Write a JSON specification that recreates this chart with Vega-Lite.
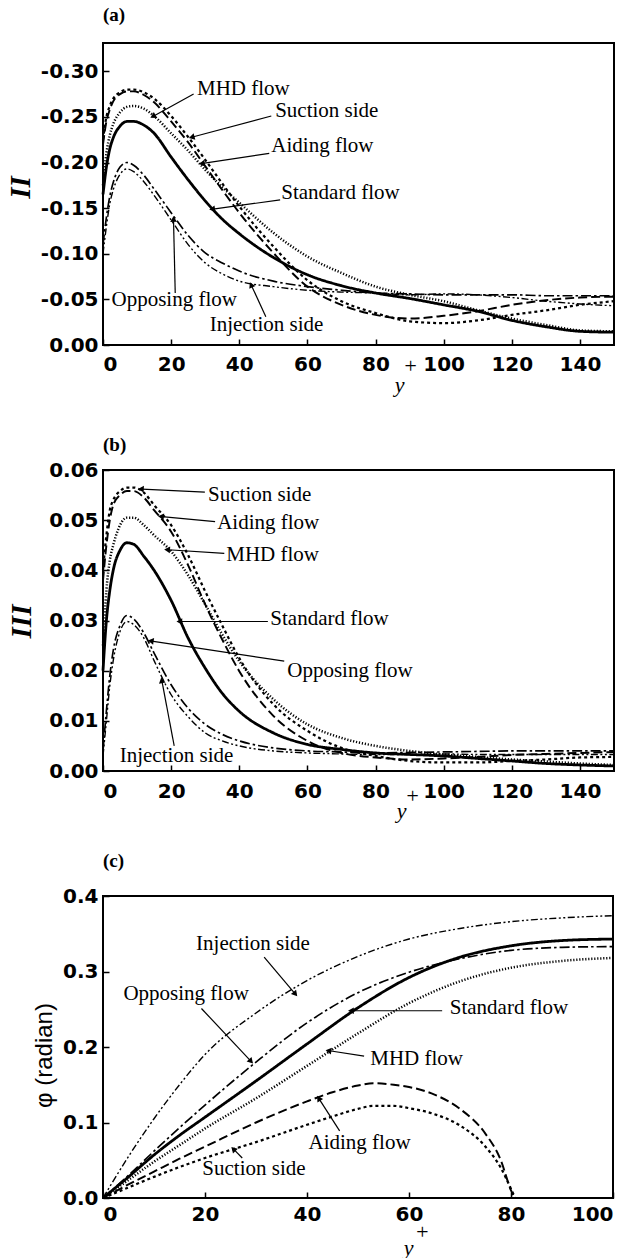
{
"$schema":"https://vega.github.io/schema/vega-lite/v6.json",
"autosize":{"type":"none"},
"padding":{"left":103,"top":43,"right":535,"bottom":1215},
"background":"white",
"config":{
 "view":{"stroke":"black","strokeWidth":2},
 "axis":{"domain":false,"grid":false,"tickColor":"black","tickSize":-6,"tickWidth":1.5,"labelFont":"DejaVu Sans","labelFontWeight":"bold","labelFontSize":20,"labelColor":"black","titleColor":"black"},
 "axisX":{"labelPadding":16},
 "axisY":{"labelPadding":11},
 "title":{"font":"Liberation Serif","fontWeight":"bold","fontSize":19,"color":"black","anchor":"start","frame":"group","baseline":"alphabetic"},
 "text":{"font":"Liberation Serif","fontSize":21,"color":"black"}
},
"datasets":{
"a":[
{"c":"Standard flow","x":0,"v":-0.165},{"c":"Standard flow","x":1,"v":-0.195},{"c":"Standard flow","x":2,"v":-0.215},{"c":"Standard flow","x":3,"v":-0.227},{"c":"Standard flow","x":5,"v":-0.24},{"c":"Standard flow","x":7,"v":-0.245},{"c":"Standard flow","x":9,"v":-0.245},{"c":"Standard flow","x":12,"v":-0.241},{"c":"Standard flow","x":15,"v":-0.232},{"c":"Standard flow","x":20,"v":-0.206},{"c":"Standard flow","x":25,"v":-0.181},{"c":"Standard flow","x":30,"v":-0.158},{"c":"Standard flow","x":35,"v":-0.138},{"c":"Standard flow","x":40,"v":-0.122},{"c":"Standard flow","x":50,"v":-0.096},{"c":"Standard flow","x":60,"v":-0.077},{"c":"Standard flow","x":70,"v":-0.065},{"c":"Standard flow","x":80,"v":-0.057},{"c":"Standard flow","x":90,"v":-0.051},{"c":"Standard flow","x":100,"v":-0.044},{"c":"Standard flow","x":110,"v":-0.037},{"c":"Standard flow","x":120,"v":-0.027},{"c":"Standard flow","x":130,"v":-0.02},{"c":"Standard flow","x":140,"v":-0.015},{"c":"Standard flow","x":150,"v":-0.014},
{"c":"MHD flow","x":0,"v":-0.175},{"c":"MHD flow","x":1,"v":-0.21},{"c":"MHD flow","x":2,"v":-0.23},{"c":"MHD flow","x":3,"v":-0.242},{"c":"MHD flow","x":5,"v":-0.255},{"c":"MHD flow","x":7,"v":-0.261},{"c":"MHD flow","x":9,"v":-0.262},{"c":"MHD flow","x":12,"v":-0.259},{"c":"MHD flow","x":15,"v":-0.251},{"c":"MHD flow","x":20,"v":-0.232},{"c":"MHD flow","x":25,"v":-0.213},{"c":"MHD flow","x":30,"v":-0.192},{"c":"MHD flow","x":35,"v":-0.173},{"c":"MHD flow","x":40,"v":-0.156},{"c":"MHD flow","x":50,"v":-0.123},{"c":"MHD flow","x":60,"v":-0.097},{"c":"MHD flow","x":70,"v":-0.079},{"c":"MHD flow","x":80,"v":-0.064},{"c":"MHD flow","x":90,"v":-0.055},{"c":"MHD flow","x":100,"v":-0.048},{"c":"MHD flow","x":110,"v":-0.038},{"c":"MHD flow","x":120,"v":-0.029},{"c":"MHD flow","x":130,"v":-0.022},{"c":"MHD flow","x":140,"v":-0.016},{"c":"MHD flow","x":150,"v":-0.015},
{"c":"Suction side","x":0,"v":-0.225},{"c":"Suction side","x":1,"v":-0.25},{"c":"Suction side","x":2,"v":-0.262},{"c":"Suction side","x":3,"v":-0.27},{"c":"Suction side","x":5,"v":-0.277},{"c":"Suction side","x":7,"v":-0.28},{"c":"Suction side","x":9,"v":-0.28},{"c":"Suction side","x":12,"v":-0.277},{"c":"Suction side","x":15,"v":-0.27},{"c":"Suction side","x":20,"v":-0.251},{"c":"Suction side","x":25,"v":-0.228},{"c":"Suction side","x":30,"v":-0.203},{"c":"Suction side","x":35,"v":-0.177},{"c":"Suction side","x":40,"v":-0.152},{"c":"Suction side","x":50,"v":-0.108},{"c":"Suction side","x":60,"v":-0.071},{"c":"Suction side","x":70,"v":-0.048},{"c":"Suction side","x":80,"v":-0.035},{"c":"Suction side","x":90,"v":-0.026},{"c":"Suction side","x":100,"v":-0.024},{"c":"Suction side","x":110,"v":-0.027},{"c":"Suction side","x":120,"v":-0.033},{"c":"Suction side","x":130,"v":-0.038},{"c":"Suction side","x":140,"v":-0.044},{"c":"Suction side","x":150,"v":-0.048},
{"c":"Aiding flow","x":0,"v":-0.22},{"c":"Aiding flow","x":1,"v":-0.245},{"c":"Aiding flow","x":2,"v":-0.258},{"c":"Aiding flow","x":3,"v":-0.267},{"c":"Aiding flow","x":5,"v":-0.275},{"c":"Aiding flow","x":7,"v":-0.278},{"c":"Aiding flow","x":9,"v":-0.278},{"c":"Aiding flow","x":12,"v":-0.274},{"c":"Aiding flow","x":15,"v":-0.266},{"c":"Aiding flow","x":20,"v":-0.245},{"c":"Aiding flow","x":25,"v":-0.222},{"c":"Aiding flow","x":30,"v":-0.196},{"c":"Aiding flow","x":35,"v":-0.17},{"c":"Aiding flow","x":40,"v":-0.145},{"c":"Aiding flow","x":50,"v":-0.101},{"c":"Aiding flow","x":60,"v":-0.064},{"c":"Aiding flow","x":70,"v":-0.044},{"c":"Aiding flow","x":80,"v":-0.033},{"c":"Aiding flow","x":90,"v":-0.029},{"c":"Aiding flow","x":100,"v":-0.032},{"c":"Aiding flow","x":110,"v":-0.037},{"c":"Aiding flow","x":120,"v":-0.044},{"c":"Aiding flow","x":130,"v":-0.049},{"c":"Aiding flow","x":140,"v":-0.052},{"c":"Aiding flow","x":150,"v":-0.053},
{"c":"Opposing flow","x":0,"v":-0.11},{"c":"Opposing flow","x":1,"v":-0.14},{"c":"Opposing flow","x":2,"v":-0.163},{"c":"Opposing flow","x":3,"v":-0.178},{"c":"Opposing flow","x":5,"v":-0.195},{"c":"Opposing flow","x":7,"v":-0.2},{"c":"Opposing flow","x":9,"v":-0.197},{"c":"Opposing flow","x":12,"v":-0.186},{"c":"Opposing flow","x":15,"v":-0.171},{"c":"Opposing flow","x":20,"v":-0.145},{"c":"Opposing flow","x":25,"v":-0.12},{"c":"Opposing flow","x":30,"v":-0.101},{"c":"Opposing flow","x":35,"v":-0.09},{"c":"Opposing flow","x":40,"v":-0.081},{"c":"Opposing flow","x":50,"v":-0.07},{"c":"Opposing flow","x":60,"v":-0.064},{"c":"Opposing flow","x":70,"v":-0.06},{"c":"Opposing flow","x":80,"v":-0.057},{"c":"Opposing flow","x":90,"v":-0.056},{"c":"Opposing flow","x":100,"v":-0.055},{"c":"Opposing flow","x":110,"v":-0.055},{"c":"Opposing flow","x":120,"v":-0.055},{"c":"Opposing flow","x":130,"v":-0.054},{"c":"Opposing flow","x":140,"v":-0.054},{"c":"Opposing flow","x":150,"v":-0.054},
{"c":"Injection side","x":0,"v":-0.1},{"c":"Injection side","x":1,"v":-0.13},{"c":"Injection side","x":2,"v":-0.155},{"c":"Injection side","x":3,"v":-0.17},{"c":"Injection side","x":5,"v":-0.187},{"c":"Injection side","x":7,"v":-0.193},{"c":"Injection side","x":9,"v":-0.19},{"c":"Injection side","x":12,"v":-0.179},{"c":"Injection side","x":15,"v":-0.164},{"c":"Injection side","x":20,"v":-0.137},{"c":"Injection side","x":25,"v":-0.11},{"c":"Injection side","x":30,"v":-0.09},{"c":"Injection side","x":35,"v":-0.078},{"c":"Injection side","x":40,"v":-0.07},{"c":"Injection side","x":50,"v":-0.064},{"c":"Injection side","x":60,"v":-0.06},{"c":"Injection side","x":70,"v":-0.058},{"c":"Injection side","x":80,"v":-0.057},{"c":"Injection side","x":90,"v":-0.055},{"c":"Injection side","x":100,"v":-0.056},{"c":"Injection side","x":110,"v":-0.055},{"c":"Injection side","x":120,"v":-0.052},{"c":"Injection side","x":130,"v":-0.048},{"c":"Injection side","x":140,"v":-0.045},{"c":"Injection side","x":150,"v":-0.043}
],
"b":[
{"c":"Standard flow","x":0,"v":0.02},{"c":"Standard flow","x":1,"v":0.03},{"c":"Standard flow","x":2,"v":0.036},{"c":"Standard flow","x":3,"v":0.04},{"c":"Standard flow","x":5,"v":0.044},{"c":"Standard flow","x":7,"v":0.0455},{"c":"Standard flow","x":9,"v":0.0452},{"c":"Standard flow","x":12,"v":0.0428},{"c":"Standard flow","x":15,"v":0.04},{"c":"Standard flow","x":20,"v":0.034},{"c":"Standard flow","x":25,"v":0.0265},{"c":"Standard flow","x":30,"v":0.0205},{"c":"Standard flow","x":35,"v":0.0155},{"c":"Standard flow","x":40,"v":0.0119},{"c":"Standard flow","x":50,"v":0.0076},{"c":"Standard flow","x":60,"v":0.0053},{"c":"Standard flow","x":70,"v":0.0043},{"c":"Standard flow","x":80,"v":0.0036},{"c":"Standard flow","x":90,"v":0.0033},{"c":"Standard flow","x":100,"v":0.003},{"c":"Standard flow","x":110,"v":0.0025},{"c":"Standard flow","x":120,"v":0.002},{"c":"Standard flow","x":130,"v":0.0015},{"c":"Standard flow","x":140,"v":0.0012},{"c":"Standard flow","x":150,"v":0.001},
{"c":"MHD flow","x":0,"v":0.025},{"c":"MHD flow","x":1,"v":0.036},{"c":"MHD flow","x":2,"v":0.042},{"c":"MHD flow","x":3,"v":0.045},{"c":"MHD flow","x":5,"v":0.049},{"c":"MHD flow","x":7,"v":0.0505},{"c":"MHD flow","x":9,"v":0.0505},{"c":"MHD flow","x":12,"v":0.049},{"c":"MHD flow","x":15,"v":0.047},{"c":"MHD flow","x":20,"v":0.0438},{"c":"MHD flow","x":25,"v":0.039},{"c":"MHD flow","x":30,"v":0.0332},{"c":"MHD flow","x":35,"v":0.0272},{"c":"MHD flow","x":40,"v":0.0219},{"c":"MHD flow","x":50,"v":0.0143},{"c":"MHD flow","x":60,"v":0.0093},{"c":"MHD flow","x":70,"v":0.0066},{"c":"MHD flow","x":80,"v":0.005},{"c":"MHD flow","x":90,"v":0.004},{"c":"MHD flow","x":100,"v":0.0033},{"c":"MHD flow","x":110,"v":0.0028},{"c":"MHD flow","x":120,"v":0.0023},{"c":"MHD flow","x":130,"v":0.0019},{"c":"MHD flow","x":140,"v":0.0015},{"c":"MHD flow","x":150,"v":0.0012},
{"c":"Suction side","x":0,"v":0.04},{"c":"Suction side","x":1,"v":0.047},{"c":"Suction side","x":2,"v":0.052},{"c":"Suction side","x":3,"v":0.054},{"c":"Suction side","x":5,"v":0.0558},{"c":"Suction side","x":7,"v":0.0565},{"c":"Suction side","x":9,"v":0.0565},{"c":"Suction side","x":12,"v":0.0555},{"c":"Suction side","x":15,"v":0.053},{"c":"Suction side","x":20,"v":0.049},{"c":"Suction side","x":25,"v":0.043},{"c":"Suction side","x":30,"v":0.0358},{"c":"Suction side","x":35,"v":0.029},{"c":"Suction side","x":40,"v":0.0225},{"c":"Suction side","x":50,"v":0.0133},{"c":"Suction side","x":60,"v":0.008},{"c":"Suction side","x":70,"v":0.0046},{"c":"Suction side","x":80,"v":0.003},{"c":"Suction side","x":90,"v":0.002},{"c":"Suction side","x":100,"v":0.0017},{"c":"Suction side","x":110,"v":0.0017},{"c":"Suction side","x":120,"v":0.002},{"c":"Suction side","x":130,"v":0.0023},{"c":"Suction side","x":140,"v":0.0027},{"c":"Suction side","x":150,"v":0.0028},
{"c":"Aiding flow","x":0,"v":0.038},{"c":"Aiding flow","x":1,"v":0.045},{"c":"Aiding flow","x":2,"v":0.05},{"c":"Aiding flow","x":3,"v":0.053},{"c":"Aiding flow","x":5,"v":0.055},{"c":"Aiding flow","x":7,"v":0.0558},{"c":"Aiding flow","x":9,"v":0.0558},{"c":"Aiding flow","x":12,"v":0.0545},{"c":"Aiding flow","x":15,"v":0.052},{"c":"Aiding flow","x":20,"v":0.0477},{"c":"Aiding flow","x":25,"v":0.041},{"c":"Aiding flow","x":30,"v":0.0332},{"c":"Aiding flow","x":35,"v":0.0262},{"c":"Aiding flow","x":40,"v":0.0199},{"c":"Aiding flow","x":50,"v":0.011},{"c":"Aiding flow","x":60,"v":0.006},{"c":"Aiding flow","x":70,"v":0.0036},{"c":"Aiding flow","x":80,"v":0.0027},{"c":"Aiding flow","x":90,"v":0.0023},{"c":"Aiding flow","x":100,"v":0.0025},{"c":"Aiding flow","x":110,"v":0.0028},{"c":"Aiding flow","x":120,"v":0.0032},{"c":"Aiding flow","x":130,"v":0.0034},{"c":"Aiding flow","x":140,"v":0.0036},{"c":"Aiding flow","x":150,"v":0.0038},
{"c":"Opposing flow","x":0,"v":0.004},{"c":"Opposing flow","x":1,"v":0.012},{"c":"Opposing flow","x":2,"v":0.019},{"c":"Opposing flow","x":3,"v":0.024},{"c":"Opposing flow","x":5,"v":0.029},{"c":"Opposing flow","x":7,"v":0.031},{"c":"Opposing flow","x":9,"v":0.0303},{"c":"Opposing flow","x":12,"v":0.0275},{"c":"Opposing flow","x":15,"v":0.0235},{"c":"Opposing flow","x":20,"v":0.0172},{"c":"Opposing flow","x":25,"v":0.0125},{"c":"Opposing flow","x":30,"v":0.0093},{"c":"Opposing flow","x":35,"v":0.0073},{"c":"Opposing flow","x":40,"v":0.006},{"c":"Opposing flow","x":50,"v":0.0046},{"c":"Opposing flow","x":60,"v":0.004},{"c":"Opposing flow","x":70,"v":0.0038},{"c":"Opposing flow","x":80,"v":0.0036},{"c":"Opposing flow","x":90,"v":0.0037},{"c":"Opposing flow","x":100,"v":0.0038},{"c":"Opposing flow","x":110,"v":0.0039},{"c":"Opposing flow","x":120,"v":0.004},{"c":"Opposing flow","x":130,"v":0.004},{"c":"Opposing flow","x":140,"v":0.004},{"c":"Opposing flow","x":150,"v":0.004},
{"c":"Injection side","x":0,"v":0.003},{"c":"Injection side","x":1,"v":0.01},{"c":"Injection side","x":2,"v":0.017},{"c":"Injection side","x":3,"v":0.022},{"c":"Injection side","x":5,"v":0.0278},{"c":"Injection side","x":7,"v":0.0298},{"c":"Injection side","x":9,"v":0.0292},{"c":"Injection side","x":12,"v":0.0265},{"c":"Injection side","x":15,"v":0.022},{"c":"Injection side","x":20,"v":0.0152},{"c":"Injection side","x":25,"v":0.0108},{"c":"Injection side","x":30,"v":0.0076},{"c":"Injection side","x":35,"v":0.006},{"c":"Injection side","x":40,"v":0.005},{"c":"Injection side","x":50,"v":0.004},{"c":"Injection side","x":60,"v":0.0036},{"c":"Injection side","x":70,"v":0.0034},{"c":"Injection side","x":80,"v":0.0033},{"c":"Injection side","x":90,"v":0.0033},{"c":"Injection side","x":100,"v":0.0034},{"c":"Injection side","x":110,"v":0.0033},{"c":"Injection side","x":120,"v":0.0033},{"c":"Injection side","x":130,"v":0.0033},{"c":"Injection side","x":140,"v":0.0033},{"c":"Injection side","x":150,"v":0.0033}
],
"c":[
{"c":"Injection side","x":0,"v":0},{"c":"Injection side","x":5,"v":0.055},{"c":"Injection side","x":10,"v":0.105},{"c":"Injection side","x":15,"v":0.15},{"c":"Injection side","x":20,"v":0.19},{"c":"Injection side","x":30,"v":0.245},{"c":"Injection side","x":40,"v":0.288},{"c":"Injection side","x":50,"v":0.32},{"c":"Injection side","x":60,"v":0.343},{"c":"Injection side","x":70,"v":0.357},{"c":"Injection side","x":80,"v":0.366},{"c":"Injection side","x":90,"v":0.371},{"c":"Injection side","x":100,"v":0.374},
{"c":"Opposing flow","x":0,"v":0},{"c":"Opposing flow","x":5,"v":0.03},{"c":"Opposing flow","x":10,"v":0.062},{"c":"Opposing flow","x":15,"v":0.093},{"c":"Opposing flow","x":20,"v":0.123},{"c":"Opposing flow","x":30,"v":0.18},{"c":"Opposing flow","x":40,"v":0.232},{"c":"Opposing flow","x":50,"v":0.272},{"c":"Opposing flow","x":60,"v":0.299},{"c":"Opposing flow","x":70,"v":0.317},{"c":"Opposing flow","x":80,"v":0.328},{"c":"Opposing flow","x":90,"v":0.332},{"c":"Opposing flow","x":100,"v":0.333},
{"c":"Standard flow","x":0,"v":0},{"c":"Standard flow","x":5,"v":0.028},{"c":"Standard flow","x":10,"v":0.057},{"c":"Standard flow","x":15,"v":0.083},{"c":"Standard flow","x":20,"v":0.107},{"c":"Standard flow","x":30,"v":0.155},{"c":"Standard flow","x":40,"v":0.204},{"c":"Standard flow","x":50,"v":0.252},{"c":"Standard flow","x":60,"v":0.292},{"c":"Standard flow","x":70,"v":0.319},{"c":"Standard flow","x":80,"v":0.334},{"c":"Standard flow","x":90,"v":0.341},{"c":"Standard flow","x":100,"v":0.343},
{"c":"MHD flow","x":0,"v":0},{"c":"MHD flow","x":5,"v":0.024},{"c":"MHD flow","x":10,"v":0.048},{"c":"MHD flow","x":15,"v":0.07},{"c":"MHD flow","x":20,"v":0.092},{"c":"MHD flow","x":30,"v":0.132},{"c":"MHD flow","x":40,"v":0.175},{"c":"MHD flow","x":50,"v":0.218},{"c":"MHD flow","x":60,"v":0.258},{"c":"MHD flow","x":70,"v":0.287},{"c":"MHD flow","x":80,"v":0.305},{"c":"MHD flow","x":90,"v":0.314},{"c":"MHD flow","x":100,"v":0.318},
{"c":"Aiding flow","x":0,"v":0},{"c":"Aiding flow","x":5,"v":0.018},{"c":"Aiding flow","x":10,"v":0.035},{"c":"Aiding flow","x":15,"v":0.052},{"c":"Aiding flow","x":20,"v":0.068},{"c":"Aiding flow","x":30,"v":0.1},{"c":"Aiding flow","x":40,"v":0.128},{"c":"Aiding flow","x":45,"v":0.14},{"c":"Aiding flow","x":50,"v":0.149},{"c":"Aiding flow","x":53,"v":0.152},{"c":"Aiding flow","x":57,"v":0.15},{"c":"Aiding flow","x":60,"v":0.147},{"c":"Aiding flow","x":65,"v":0.137},{"c":"Aiding flow","x":70,"v":0.118},{"c":"Aiding flow","x":75,"v":0.085},{"c":"Aiding flow","x":78,"v":0.05},{"c":"Aiding flow","x":80,"v":0.01},{"c":"Aiding flow","x":80.7,"v":0},
{"c":"Suction side","x":0,"v":0},{"c":"Suction side","x":5,"v":0.014},{"c":"Suction side","x":10,"v":0.028},{"c":"Suction side","x":15,"v":0.041},{"c":"Suction side","x":20,"v":0.053},{"c":"Suction side","x":30,"v":0.074},{"c":"Suction side","x":40,"v":0.097},{"c":"Suction side","x":45,"v":0.108},{"c":"Suction side","x":50,"v":0.118},{"c":"Suction side","x":53,"v":0.122},{"c":"Suction side","x":57,"v":0.122},{"c":"Suction side","x":60,"v":0.119},{"c":"Suction side","x":65,"v":0.111},{"c":"Suction side","x":70,"v":0.096},{"c":"Suction side","x":75,"v":0.068},{"c":"Suction side","x":78,"v":0.04},{"c":"Suction side","x":80,"v":0.012},{"c":"Suction side","x":80.8,"v":0}
],
"annA":[
{"label":"MHD flow","tx":41.2,"ty":-0.281,"x1":26.6,"y1":-0.275,"x2":14.9,"y2":-0.251},
{"label":"Suction side","tx":65.7,"ty":-0.256,"x1":49.4,"y1":-0.251,"x2":26.3,"y2":-0.228},
{"label":"Aiding flow","tx":64.4,"ty":-0.218,"x1":48.8,"y1":-0.21,"x2":29.3,"y2":-0.199},
{"label":"Standard flow","tx":69.7,"ty":-0.167,"x1":52,"y1":-0.159,"x2":32.3,"y2":-0.149},
{"label":"Opposing flow","tx":20.9,"ty":-0.049,"x1":21.2,"y1":-0.057,"x2":20.7,"y2":-0.137},
{"label":"Injection side","tx":48,"ty":-0.022,"x1":47.8,"y1":-0.031,"x2":43.6,"y2":-0.065}
],
"annB":[
{"label":"Suction side","tx":46,"ty":0.055,"x1":29.9,"y1":0.0556,"x2":11.4,"y2":0.0562},
{"label":"Aiding flow","tx":48.5,"ty":0.0494,"x1":32.9,"y1":0.0497,"x2":17.3,"y2":0.0507},
{"label":"MHD flow","tx":49.8,"ty":0.0431,"x1":35.6,"y1":0.0434,"x2":19.1,"y2":0.0441},
{"label":"Standard flow","tx":66.5,"ty":0.0302,"x1":48.4,"y1":0.0298,"x2":22.7,"y2":0.0298},
{"label":"Opposing flow","tx":72.5,"ty":0.0199,"x1":53.2,"y1":0.0219,"x2":14.3,"y2":0.0259},
{"label":"Injection side","tx":21.6,"ty":0.003,"x1":20.9,"y1":0.005,"x2":17.3,"y2":0.0179}
],
"annC":[
{"label":"Injection side","tx":29.4,"ty":0.337,"x1":31.6,"y1":0.319,"x2":37.6,"y2":0.271},
{"label":"Opposing flow","tx":16.3,"ty":0.27,"x1":19.3,"y1":0.251,"x2":28.9,"y2":0.182},
{"label":"Standard flow","tx":79.6,"ty":0.251,"x1":66.5,"y1":0.248,"x2":48.8,"y2":0.248},
{"label":"MHD flow","tx":61.5,"ty":0.184,"x1":51.2,"y1":0.188,"x2":44.4,"y2":0.195},
{"label":"Aiding flow","tx":50.3,"ty":0.073,"x1":46.4,"y1":0.089,"x2":42.4,"y2":0.131},
{"label":"Suction side","tx":29.6,"ty":0.038,"x1":27.3,"y1":0.053,"x2":25.7,"y2":0.064}
]
},
"bounds":"flush",
"spacing":125,
"vconcat":[
{"width":511,"height":302,
 "title":{"text":"(a)","offset":18},
 "encoding":{
  "x":{"type":"quantitative","scale":{"domain":[0,150],"nice":false},"axis":{"values":[0,20,40,60,80,100,120,140],"format":"d","labelPadding":15,"title":["\u200b\u00a0\u00a0\u00a0\u00a0+","y"],"titleX":296,"titleY":10,"titleBaseline":"top","titleAlign":"center","titleAngle":0,"titleFont":"Liberation Serif","titleFontStyle":"italic","titleFontWeight":"normal","titleFontSize":22,"titleLineHeight":19}},
  "y":{"type":"quantitative","scale":{"domain":[-0.331,0],"reverse":true,"nice":false,"zero":false},"axis":{"values":[-0.3,-0.25,-0.2,-0.15,-0.1,-0.05,0],"labelExpr":"datum.value < 0 ? '-' + format(-datum.value, '.2f') : format(datum.value, '.2f')","title":"II","titleX":-83,"titleY":144,"titleAngle":-90,"titleBaseline":"middle","titleAlign":"center","titleFont":"Liberation Serif","titleFontStyle":"italic","titleFontWeight":"bold","titleFontSize":29}}
 },
 "layer":[
  {"data":{"name":"a"},"mark":{"type":"line","interpolate":"monotone","color":"black"},
   "encoding":{"x":{"field":"x"},"y":{"field":"v"},
    "strokeDash":{"field":"c","type":"nominal","scale":{"domain":["Standard flow","MHD flow","Suction side","Aiding flow","Opposing flow","Injection side"],"range":[[1,0],[1.2,1.8],[3,3],[9,4],[10,3,2.5,3],[7,2.5,2,2.5,2,2.5]]},"legend":null},
    "strokeWidth":{"field":"c","type":"ordinal","scale":{"domain":["Standard flow","MHD flow","Suction side","Aiding flow","Opposing flow","Injection side"],"range":[2.8,1.4,2.5,2.5,2.5,2.1]},"legend":null}}},
  {"data":{"name":"annA"},"mark":{"type":"rule","color":"black","strokeWidth":1.2},
   "encoding":{"x":{"field":"x1"},"y":{"field":"y1"},"x2":{"field":"x2"},"y2":{"field":"y2"}}},
  {"data":{"name":"annA"},"transform":[{"calculate":"atan2((datum.x2-datum.x1)*3.407, -(datum.y2-datum.y1)*915.2)*180/PI","as":"ang"}],
   "mark":{"type":"point","shape":"triangle","filled":true,"color":"black","size":45,"opacity":1},
   "encoding":{"x":{"field":"x2"},"y":{"field":"y2"},"angle":{"field":"ang","type":"quantitative","scale":null}}},
  {"data":{"name":"annA"},"mark":{"type":"text","align":"center","baseline":"middle"},
   "encoding":{"x":{"field":"tx"},"y":{"field":"ty"},"text":{"field":"label"}}}
 ]},
{"width":511,"height":301,
 "title":{"text":"(b)","offset":5},
 "encoding":{
  "x":{"type":"quantitative","scale":{"domain":[0,150],"nice":false},"axis":{"values":[0,20,40,60,80,100,120,140],"format":"d","labelPadding":16,"title":["\u200b\u00a0\u00a0\u00a0\u00a0+","y"],"titleX":298,"titleY":14,"titleBaseline":"top","titleAlign":"center","titleAngle":0,"titleFont":"Liberation Serif","titleFontStyle":"italic","titleFontWeight":"normal","titleFontSize":22,"titleLineHeight":15}},
  "y":{"type":"quantitative","scale":{"domain":[0,0.06],"nice":false,"zero":false},"axis":{"values":[0,0.01,0.02,0.03,0.04,0.05,0.06],"format":".2f","title":"III","titleX":-82,"titleY":151,"titleAngle":-90,"titleBaseline":"middle","titleAlign":"center","titleFont":"Liberation Serif","titleFontStyle":"italic","titleFontWeight":"bold","titleFontSize":29}}
 },
 "layer":[
  {"data":{"name":"b"},"mark":{"type":"line","interpolate":"monotone","color":"black"},
   "encoding":{"x":{"field":"x"},"y":{"field":"v"},
    "strokeDash":{"field":"c","type":"nominal","scale":{"domain":["Standard flow","MHD flow","Suction side","Aiding flow","Opposing flow","Injection side"],"range":[[1,0],[1.2,1.8],[3,3],[9,4],[10,3,2.5,3],[7,2.5,2,2.5,2,2.5]]},"legend":null},
    "strokeWidth":{"field":"c","type":"ordinal","scale":{"domain":["Standard flow","MHD flow","Suction side","Aiding flow","Opposing flow","Injection side"],"range":[2.8,1.4,2.5,2.5,2.5,2.1]},"legend":null}}},
  {"data":{"name":"annB"},"mark":{"type":"rule","color":"black","strokeWidth":1.2},
   "encoding":{"x":{"field":"x1"},"y":{"field":"y1"},"x2":{"field":"x2"},"y2":{"field":"y2"}}},
  {"data":{"name":"annB"},"transform":[{"calculate":"atan2((datum.x2-datum.x1)*3.407, (datum.y2-datum.y1)*5016.7)*180/PI","as":"ang"}],
   "mark":{"type":"point","shape":"triangle","filled":true,"color":"black","size":45,"opacity":1},
   "encoding":{"x":{"field":"x2"},"y":{"field":"y2"},"angle":{"field":"ang","type":"quantitative","scale":null}}},
  {"data":{"name":"annB"},"mark":{"type":"text","align":"center","baseline":"middle"},
   "encoding":{"x":{"field":"tx"},"y":{"field":"ty"},"text":{"field":"label"}}}
 ]},
{"width":510,"height":302,
 "title":{"text":"(c)","offset":15},
 "encoding":{
  "x":{"type":"quantitative","scale":{"domain":[0,100],"nice":false},"axis":{"values":[0,20,40,60,80,100],"format":"d","labelPadding":12,"title":["\u200b\u00a0\u00a0\u00a0\u00a0\u00a0+","y"],"titleX":305,"titleY":23,"titleBaseline":"top","titleAlign":"center","titleAngle":0,"titleFont":"Liberation Serif","titleFontStyle":"italic","titleFontWeight":"normal","titleFontSize":22,"titleLineHeight":16}},
  "y":{"type":"quantitative","scale":{"domain":[0,0.4],"nice":false,"zero":false},"axis":{"values":[0,0.1,0.2,0.3,0.4],"format":".1f","title":"\u03c6 (radian)","titleX":-59,"titleY":159,"titleAngle":-90,"titleBaseline":"middle","titleAlign":"center","titleFont":"Liberation Sans","titleFontWeight":"normal","titleFontSize":24}}
 },
 "layer":[
  {"data":{"name":"c"},"mark":{"type":"line","interpolate":"monotone","color":"black"},
   "encoding":{"x":{"field":"x"},"y":{"field":"v"},
    "strokeDash":{"field":"c","type":"nominal","scale":{"domain":["Standard flow","MHD flow","Suction side","Aiding flow","Opposing flow","Injection side"],"range":[[1,0],[1.2,1.8],[3,3],[9,4],[10,3,2.5,3],[7,2.5,2,2.5,2,2.5]]},"legend":null},
    "strokeWidth":{"field":"c","type":"ordinal","scale":{"domain":["Standard flow","MHD flow","Suction side","Aiding flow","Opposing flow","Injection side"],"range":[2.8,1.4,2.5,2.5,2.5,2.1]},"legend":null}}},
  {"data":{"name":"annC"},"mark":{"type":"rule","color":"black","strokeWidth":1.2},
   "encoding":{"x":{"field":"x1"},"y":{"field":"y1"},"x2":{"field":"x2"},"y2":{"field":"y2"}}},
  {"data":{"name":"annC"},"transform":[{"calculate":"atan2((datum.x2-datum.x1)*5.1, (datum.y2-datum.y1)*755)*180/PI","as":"ang"}],
   "mark":{"type":"point","shape":"triangle","filled":true,"color":"black","size":45,"opacity":1},
   "encoding":{"x":{"field":"x2"},"y":{"field":"y2"},"angle":{"field":"ang","type":"quantitative","scale":null}}},
  {"data":{"name":"annC"},"mark":{"type":"text","align":"center","baseline":"middle"},
   "encoding":{"x":{"field":"tx"},"y":{"field":"ty"},"text":{"field":"label"}}}
 ]}
]
}
